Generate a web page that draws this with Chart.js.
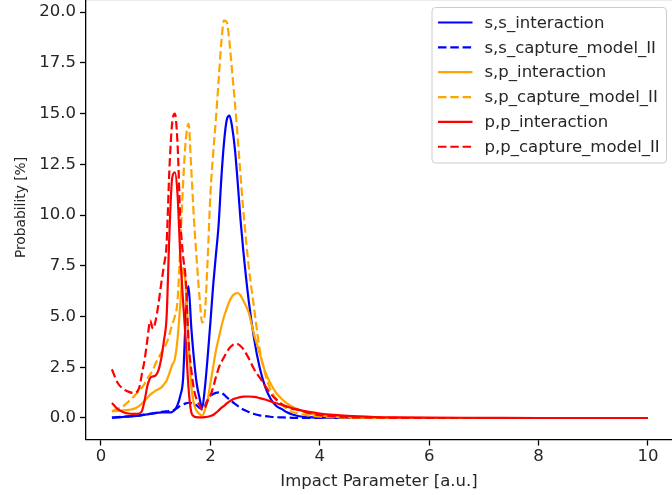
<!DOCTYPE html>
<html>
<head>
<meta charset="utf-8">
<script src="https://cdn.jsdelivr.net/npm/chart.js@4"></script>
<style>
html,body{margin:0;padding:0;background:#fff;overflow:hidden;}
#wrap{position:absolute;left:0;top:0;width:672px;height:495px;}
</style>
</head>
<body>
<div id="wrap"><canvas id="c" width="672" height="495"></canvas></div>
<script>
// ---- data ----
const impactParameter = [0.2,0.3,0.4,0.5,0.6,0.7,0.75,0.8,0.85,0.9,0.95,1.0,1.05,1.1,1.15,1.2,1.25,1.3,1.35,1.4,1.45,1.5,1.55,1.6,1.65,1.7,1.75,1.8,1.85,1.9,1.95,2.0,2.05,2.1,2.15,2.2,2.25,2.3,2.35,2.4,2.45,2.5,2.55,2.6,2.7,2.8,2.9,3.0,3.1,3.2,3.3,3.4,3.5,3.6,3.8,4.0,4.25,4.5,5,5.5,6,7,8,9,10];

const ssInteraction = [0.02,0.03,0.05,0.07,0.09,0.12,0.14,0.16,0.18,0.2,0.22,0.24,0.26,0.27,0.28,0.28,0.28,0.3,0.4,0.65,1.1,1.9,5.0,6.5,4.5,2.9,1.7,1.0,0.5,1.5,3.0,4.7,6.5,8.0,9.5,11.8,13.6,14.7,14.9,14.3,13.2,11.6,9.8,8.3,5.8,3.9,2.5,1.55,0.95,0.6,0.45,0.28,0.17,0.1,0.04,0.02,0.01,0,0,0,0,0,0,0,0];

const ssCaptureModelII = [0.02,0.04,0.06,0.08,0.1,0.13,0.15,0.17,0.19,0.21,0.23,0.26,0.28,0.3,0.32,0.33,0.35,0.37,0.42,0.5,0.6,0.66,0.72,0.75,0.74,0.7,0.62,0.5,0.45,0.6,0.9,1.08,1.18,1.24,1.26,1.24,1.15,1.02,0.9,0.8,0.7,0.6,0.5,0.42,0.3,0.2,0.13,0.09,0.06,0.04,0.03,0.02,0.01,0,0,0,0,0,0,0,0,0,0,0,0];

const spInteraction = [0.33,0.35,0.38,0.4,0.45,0.6,0.72,0.85,1.0,1.15,1.25,1.35,1.42,1.5,1.65,1.85,2.2,2.6,2.9,3.9,5.6,7.4,6.5,3.8,1.6,0.7,0.35,0.2,0.12,0.4,0.9,1.7,2.5,3.3,3.9,4.5,5.0,5.4,5.75,6.0,6.12,6.16,6.05,5.8,5.2,4.1,3.2,2.3,1.7,1.25,0.95,0.72,0.56,0.43,0.22,0.13,0.07,0.03,0.01,0,0,0,0,0,0];

const spCaptureModelII = [0.33,0.45,0.57,0.8,1.06,1.35,1.5,1.7,1.95,2.15,2.38,2.7,2.95,3.2,3.45,3.7,4.1,4.6,5.0,5.8,8.5,11.5,13.7,14.5,12.3,9.8,7.8,6.0,4.7,5.2,7.8,11.0,13.0,14.7,16.6,18.5,19.6,19.5,18.5,17.0,15.5,13.8,12.0,10.3,7.5,5.4,3.4,2.2,1.4,0.95,0.65,0.45,0.3,0.22,0.12,0.06,0.03,0.02,0.01,0,0,0,0,0,0];

const ppInteraction = [0.74,0.45,0.3,0.22,0.2,0.22,0.35,0.9,1.6,1.97,2.05,2.1,2.35,2.9,3.8,5.0,9.0,11.8,12.1,11.0,8.0,5.8,3.8,1.5,0.3,0.08,0.04,0.03,0.03,0.04,0.06,0.1,0.15,0.25,0.37,0.5,0.6,0.72,0.82,0.9,0.96,1.0,1.03,1.05,1.06,1.04,0.98,0.91,0.82,0.73,0.65,0.56,0.48,0.41,0.3,0.22,0.15,0.1,0.05,0.03,0.02,0.01,0,0,0];

const ppCaptureModelII = [2.4,1.75,1.45,1.3,1.23,1.5,2.2,2.9,3.9,4.8,4.4,4.8,5.6,6.6,7.5,8.6,12.2,14.5,15.0,13.5,9.8,8.0,6.8,3.8,2.4,1.4,0.9,0.65,0.4,0.5,0.85,1.1,1.5,2.0,2.45,2.75,3.0,3.25,3.45,3.58,3.64,3.64,3.55,3.4,2.95,2.4,2.0,1.6,1.2,0.92,0.7,0.55,0.45,0.4,0.25,0.14,0.08,0.04,0.02,0,0,0,0,0,0];

const xTicks = [0,2,4,6,8,10];
const yTicks = [0,2.5,5,7.5,10,12.5,15,17.5,20];

const seriesNames = ['s,s_interaction','s,s_capture_model_II','s,p_interaction','s,p_capture_model_II','p,p_interaction','p,p_capture_model_II'];
const seriesValues = [ssInteraction, ssCaptureModelII, spInteraction, spCaptureModelII, ppInteraction, ppCaptureModelII];
const seriesColors = ['#0000ff','#0000ff','#ffa500','#ffa500','#ff0000','#ff0000'];
const seriesDashed = [false,true,false,true,false,true];
const xTitle = 'Impact Parameter [a.u.]';
const yTitle = 'Probability [%]';

// ---- chart ----
const FONT = 'DejaVu Sans';
const FS = 16.5;
const LW = 2.2;
const DASH = [8.5, 3.8];
Chart.defaults.font.family = FONT;
Chart.defaults.font.size = FS;
Chart.defaults.color = '#000';

const datasets = seriesNames.map((name, i) => ({
  label: name,
  data: impactParameter.map((x, j) => ({x: x, y: seriesValues[i][j]})),
  borderColor: seriesColors[i],
  backgroundColor: seriesColors[i],
  borderWidth: LW,
  borderDash: seriesDashed[i] ? DASH : [],
  pointRadius: 0,
  fill: false,
  cubicInterpolationMode: 'monotone',
  order: seriesNames.length - 1 - i
}));

const legendPlugin = {
  id: 'mplLegend',
  afterDraw(chart) {
    const ctx = chart.ctx;
    ctx.save();
    // faint top edge
    ctx.strokeStyle = 'rgba(0,0,0,0.08)';
    ctx.lineWidth = 1;
    ctx.beginPath(); ctx.moveTo(chart.chartArea.left, 0.5); ctx.lineTo(672, 0.5); ctx.stroke();

    // y-axis title
    ctx.save();
    ctx.translate(21.5, 207.5);
    ctx.rotate(-Math.PI / 2);
    ctx.font = '13.8px "' + FONT + '"';
    ctx.fillStyle = '#262626';
    ctx.textAlign = 'center';
    ctx.textBaseline = 'middle';
    ctx.fillText(yTitle, 0, 0);
    ctx.restore();

    const bx = 432, by = 7.5, bw = 234.5, bh = 155.5, r = 3.5;
    ctx.beginPath();
    ctx.moveTo(bx + r, by);
    ctx.lineTo(bx + bw - r, by); ctx.arcTo(bx + bw, by, bx + bw, by + r, r);
    ctx.lineTo(bx + bw, by + bh - r); ctx.arcTo(bx + bw, by + bh, bx + bw - r, by + bh, r);
    ctx.lineTo(bx + r, by + bh); ctx.arcTo(bx, by + bh, bx, by + bh - r, r);
    ctx.lineTo(bx, by + r); ctx.arcTo(bx, by, bx + r, by, r);
    ctx.closePath();
    ctx.fillStyle = 'rgba(255,255,255,0.8)';
    ctx.fill();
    ctx.strokeStyle = '#cccccc';
    ctx.lineWidth = 1;
    ctx.stroke();

    const rowY0 = 22.5, rowH = 24.85;
    ctx.font = FS + 'px "' + FONT + '"';
    ctx.textBaseline = 'middle';
    ctx.textAlign = 'left';
    seriesNames.forEach((name, i) => {
      const y = rowY0 + i * rowH;
      ctx.strokeStyle = seriesColors[i];
      ctx.lineWidth = LW;
      ctx.setLineDash(seriesDashed[i] ? DASH : []);
      ctx.beginPath(); ctx.moveTo(438, y); ctx.lineTo(472.5, y); ctx.stroke();
      ctx.setLineDash([]);
      ctx.fillStyle = '#262626';
      ctx.fillText(name, 484.5, y + 1);
    });
    ctx.restore();
  }
};

new Chart(document.getElementById('c'), {
  type: 'line',
  data: { datasets: datasets },
  plugins: [legendPlugin],
  options: {
    responsive: false,
    animation: false,
    events: [],
    layout: { padding: 0 },
    plugins: { legend: { display: false }, tooltip: { enabled: false } },
    scales: {
      x: {
        type: 'linear',
        min: -0.274,
        max: 10.44,
        afterBuildTicks: s => { s.ticks = xTicks.map(v => ({value: v})); },
        afterFit: s => { s.height = 55.5; s.paddingLeft = 0; s.paddingRight = 0; },
        ticks: { padding: 1, color: '#262626', maxRotation: 0, callback: v => String(v) },
        grid: { display: true, drawOnChartArea: false, drawTicks: true, tickLength: 6, tickWidth: 1.3, tickColor: '#000' },
        border: { display: true, color: '#000', width: 1.3 },
        title: { display: true, text: xTitle, color: '#262626', font: {size: FS}, padding: {top: 0, bottom: 3} }
      },
      y: {
        type: 'linear',
        min: -1.06,
        max: 20.6,
        afterBuildTicks: s => { s.ticks = yTicks.map(v => ({value: v})); },
        afterFit: s => { s.width = 86; s.paddingTop = 0; s.paddingBottom = 0; },
        ticks: { padding: 4, color: '#262626', callback: v => Number(v).toFixed(1) },
        grid: { display: true, drawOnChartArea: false, drawTicks: true, tickLength: 6, tickWidth: 1.3, tickColor: '#000' },
        border: { display: true, color: '#000', width: 1.3 },
        title: { display: false }
      }
    }
  }
});
</script>
</body>
</html>
